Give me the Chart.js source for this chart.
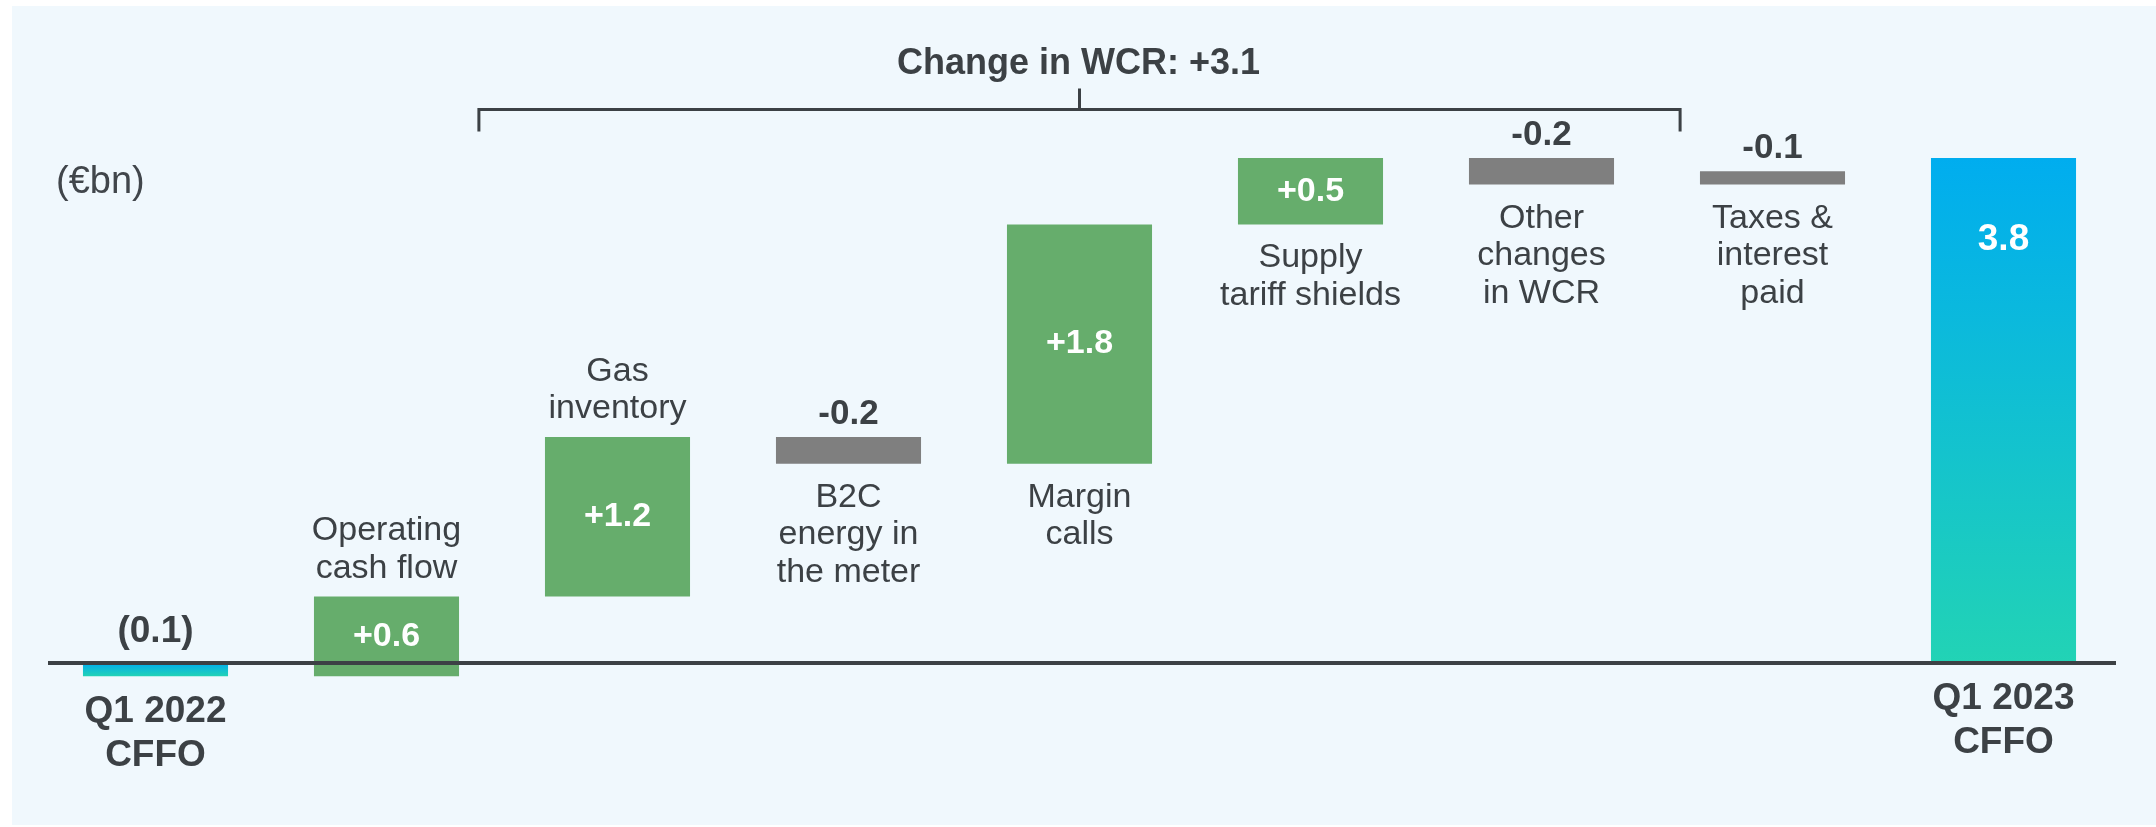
<!DOCTYPE html>
<html lang="en">
<head>
  <meta charset="UTF-8" />
  <title>CFFO bridge Q1 2022 - Q1 2023</title>
  <script src="https://cdn.jsdelivr.net/npm/chart.js"></script>
  <style>
    body {
      margin: 0;
      background: #ffffff;
      width: 2156px;
      height: 827px;
      overflow: hidden;
      position: relative;
      font-family: "Liberation Sans", Arial, sans-serif;
    }
    /* light blue slide panel behind the chart */
    .panel {
      position: absolute;
      left: 12px;
      top: 6px;
      right: 0;
      bottom: 2px;
      background: #f0f8fd;
    }
    .wrap {
      position: absolute;
      left: 0;
      top: 0;
      width: 2156px;
      height: 827px;
    }
  </style>
</head>
<body>
  <div class="panel"></div>
  <div class="wrap"><canvas id="bridge" width="2156" height="827"></canvas></div>

  <script>
    // --- data ---
    const categories = [
      ['Q1 2022', 'CFFO'],
      ['Operating', 'cash flow'],
      ['Gas', 'inventory'],
      ['B2C', 'energy in', 'the meter'],
      ['Margin', 'calls'],
      ['Supply', 'tariff shields'],
      ['Other', 'changes', 'in WCR'],
      ['Taxes &', 'interest', 'paid'],
      ['Q1 2023', 'CFFO']
    ];
    const barStart = [0, -0.1, 0.5, 1.7, 1.5, 3.3, 3.8, 3.7, 0];
    const barEnd = [-0.1, 0.5, 1.7, 1.5, 3.3, 3.8, 3.6, 3.6, 3.8];
    const valueLabels = ['(0.1)', '+0.6', '+1.2', '-0.2', '+1.8', '+0.5', '-0.2', '-0.1', '3.8'];
    const barKind = ['total', 'up', 'up', 'down', 'up', 'up', 'down', 'down', 'total'];
    const nameSide = ['below', 'above', 'above', 'below', 'below', 'below', 'below', 'below', 'below'];

    const unitLabel = '(€bn)';
    const wcrTitle = 'Change in WCR: +3.1';
    const wcrFrom = 1.4;   // category index where the bracket starts
    const wcrTo = 6.6;     // ... and ends
    const wcrMid = 4;
    const wcrLevel = 4.165; // bracket height in €bn units

    const INK = '#3c4145';
    const GREEN = '#66ad6c';
    const GREY = '#7f7f7f';
    const FONT = '"Liberation Sans", Arial, sans-serif';

    function barColour(c) {
      const i = c.dataIndex;
      if (i === undefined) return GREEN;
      if (barKind[i] === 'up') return GREEN;
      if (barKind[i] === 'down') return GREY;
      const ys = c.chart.scales.y;
      if (!ys || !Array.isArray(c.raw)) return '#11c0d0';
      const top = ys.getPixelForValue(Math.max(c.raw[0], c.raw[1]));
      const bot = ys.getPixelForValue(Math.min(c.raw[0], c.raw[1]));
      if (!isFinite(top) || !isFinite(bot) || top === bot) return '#11c0d0';
      const g = c.chart.ctx.createLinearGradient(0, top, 0, bot);
      g.addColorStop(0, '#00adef');
      g.addColorStop(1, '#22d3b5');
      return g;
    }

    // axis line, value labels, category names, WCR bracket
    const bridgeLabels = {
      id: 'bridgeLabels',
      afterDatasetsDraw(chart) {
        const ctx = chart.ctx;
        const xs = chart.scales.x;
        const ys = chart.scales.y;
        const area = chart.chartArea;
        const zero = ys.getPixelForValue(0);

        ctx.save();
        ctx.strokeStyle = INK;
        ctx.lineWidth = 4;
        ctx.beginPath();
        ctx.moveTo(area.left + 8, zero);
        ctx.lineTo(area.right - 3, zero);
        ctx.stroke();

        ctx.textAlign = 'center';
        const bars = chart.getDatasetMeta(0).data;
        bars.forEach((bar, i) => {
          const top = Math.min(bar.y, bar.base);
          const bottom = Math.max(bar.y, bar.base);
          const cx = bar.x;
          const kind = barKind[i];

          // value label
          ctx.textBaseline = 'alphabetic';
          if (kind === 'total') {
            ctx.font = 'bold 37px ' + FONT;
            if (barEnd[i] < 0) {
              ctx.fillStyle = INK;
              ctx.fillText(valueLabels[i], cx, zero - 21);
            } else {
              ctx.fillStyle = '#ffffff';
              ctx.fillText(valueLabels[i], cx, top + 92);
            }
          } else if (kind === 'up') {
            ctx.font = 'bold 34px ' + FONT;
            ctx.fillStyle = '#ffffff';
            ctx.textBaseline = 'middle';
            ctx.fillText(valueLabels[i], cx, (top + bottom) / 2);
          } else {
            ctx.font = 'bold 35px ' + FONT;
            ctx.fillStyle = INK;
            ctx.fillText(valueLabels[i], cx, top - 13);
          }

          // category name
          ctx.textBaseline = 'alphabetic';
          ctx.fillStyle = INK;
          const lines = categories[i];
          if (kind === 'total') {
            ctx.font = 'bold 37px ' + FONT;
            const y0 = Math.max(bottom, zero) + 46;
            lines.forEach((t, k) => ctx.fillText(t, cx, y0 + k * 44));
          } else {
            ctx.font = '34px ' + FONT;
            if (nameSide[i] === 'above') {
              const last = top - 19;
              lines.forEach((t, k) => ctx.fillText(t, cx, last - (lines.length - 1 - k) * 37.5));
            } else {
              const y0 = bottom + 43;
              lines.forEach((t, k) => ctx.fillText(t, cx, y0 + k * 37.5));
            }
          }
        });

        // WCR bracket
        const bx1 = xs.getPixelForValue(wcrFrom);
        const bx2 = xs.getPixelForValue(wcrTo);
        const bm = xs.getPixelForValue(wcrMid);
        const by = ys.getPixelForValue(wcrLevel);
        ctx.strokeStyle = INK;
        ctx.lineWidth = 3;
        ctx.beginPath();
        ctx.moveTo(bx1, by + 22);
        ctx.lineTo(bx1, by);
        ctx.lineTo(bx2, by);
        ctx.lineTo(bx2, by + 22);
        ctx.moveTo(bm, by);
        ctx.lineTo(bm, by - 21);
        ctx.stroke();

        ctx.font = 'bold 36px ' + FONT;
        ctx.fillStyle = INK;
        ctx.fillText(wcrTitle, bm - 1, by - 35.5);

        // unit
        ctx.textAlign = 'left';
        ctx.font = '38px ' + FONT;
        ctx.fillStyle = '#41464b';
        ctx.fillText(unitLabel, 56, 193);
        ctx.restore();
      }
    };

    new Chart(document.getElementById('bridge'), {
      type: 'bar',
      data: {
        labels: categories.map(c => c.join(' ')),
        datasets: [{
          data: barStart.map((s, i) => [s, barEnd[i]]),
          backgroundColor: barColour,
          borderWidth: 0,
          borderSkipped: false,
          categoryPercentage: 1,
          barPercentage: 0.628
        }]
      },
      options: {
        responsive: false,
        animation: false,
        layout: {
          padding: { left: 40, right: 37, top: 65, bottom: 4.5 }
        },
        scales: {
          x: { display: false },
          y: { display: false, min: -1.2, max: 4.5 }
        },
        plugins: {
          legend: { display: false },
          tooltip: { enabled: false }
        }
      },
      plugins: [bridgeLabels]
    });
  </script>
</body>
</html>
